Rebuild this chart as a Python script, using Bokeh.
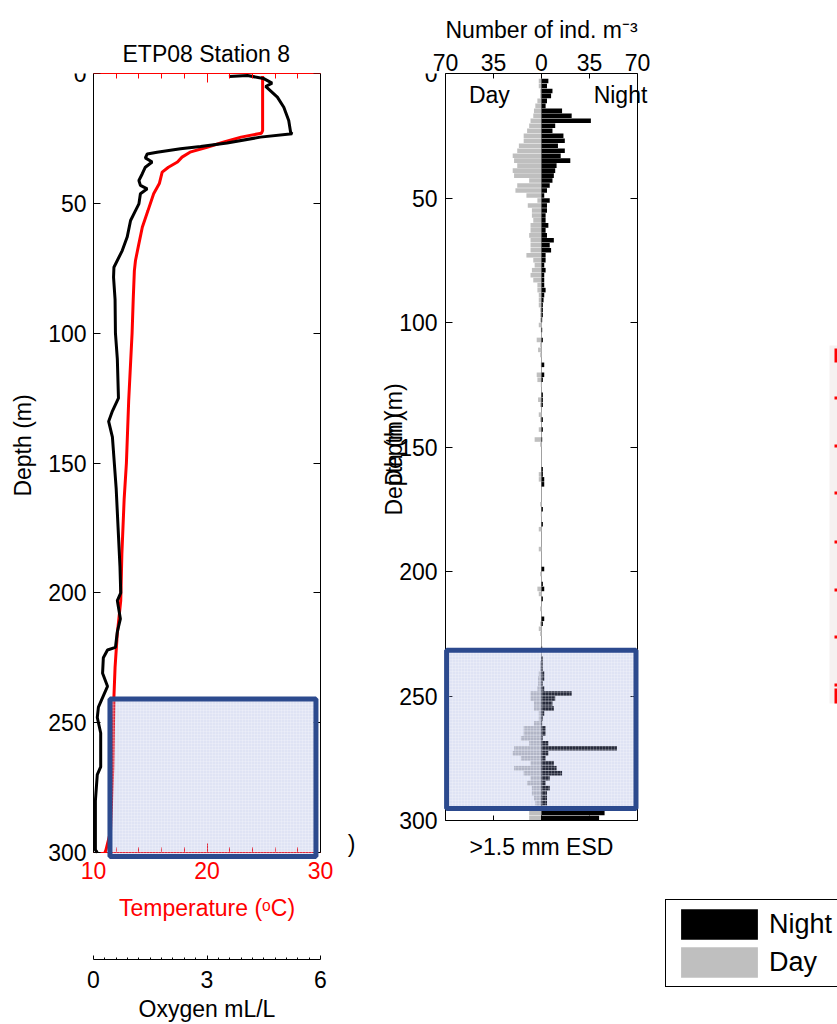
from bokeh.plotting import figure
from bokeh.models import (Range1d, LinearAxis, FixedTicker, BoxAnnotation, Label,
                          Legend, LegendItem)
from bokeh.layouts import row
from bokeh.embed import file_html
from bokeh.resources import INLINE

FONT = "Liberation Sans"
FS = "23px"

# ---------------- data ----------------
depth_ticks = [0, 50, 100, 150, 200, 250, 300]

# Temperature profile (deg C) vs depth (m)
temp_depth = [1, 3, 10, 22, 23, 24.5, 26.4, 28.4, 30.3, 32.2, 34.1, 36.1, 38, 42.4, 46.3,
              52.8, 59.2, 65.5, 72, 76, 87, 100, 126, 150, 164, 185, 203, 215.6, 228.7,
              240, 267, 292, 299, 300]
temp_vals = [24.9, 24.9, 24.9, 24.9, 24.8, 23.0, 21.5, 20.0, 18.5, 17.8, 17.4, 16.6, 16.05,
             15.8, 15.3, 14.8, 14.3, 14.0, 13.7, 13.6, 13.5, 13.4, 13.1, 12.9, 12.7, 12.5,
             12.4, 12.1, 11.9, 11.8, 11.7, 11.5, 11.1, 11.0]

# Oxygen profile (mL/L) vs depth (m)
oxy_depth = [1.2, 0.8, 1.9, 3.7, 5.0, 9.1, 13, 18.1, 22.6, 23.2, 24.5, 26.8, 28.1, 29, 30.3,
             31, 32.5, 34.1, 36.1, 38.6, 41.2, 43.1, 44.4, 46.3, 50.2, 52.8, 56.6, 63, 68.2,
             74.6, 78.5, 87, 100, 110, 125, 130, 134, 140, 150, 160, 175, 190, 200, 203, 210,
             215, 221, 222, 225, 231, 236, 244, 248, 254, 267, 270, 280, 299, 300]
oxy_vals = [3.58, 4.07, 4.49, 4.72, 4.55, 4.86, 5.03, 5.16, 5.21, 5.25, 4.41, 3.53, 2.83, 2.3,
            1.68, 1.42, 1.37, 1.55, 1.37, 1.29, 1.2, 1.24, 1.42, 1.24, 1.2, 1.11, 0.98, 0.89,
            0.76, 0.54, 0.53, 0.57, 0.58, 0.63, 0.66, 0.5, 0.4, 0.5, 0.55, 0.6, 0.65, 0.7,
            0.72, 0.63, 0.71, 0.63, 0.58, 0.37, 0.26, 0.24, 0.37, 0.13, 0.1, 0.19, 0.19, 0.1,
            0.05, 0.05, 0.1]

# Zooplankton abundance (ind. m^-3), 2-m depth bins from 0 to 300 m
bin_size = 2
night_counts = [
    0, 5, 4, 8, 7, 4, 3, 15, 22, 36,
    10, 8, 16, 17, 12, 17, 14, 21, 11, 10,
    9, 8, 6, 4, 2, 6, 4, 4, 3, 3,
    5, 3, 4, 9, 6, 7, 3, 3, 2, 3,
    2, 2, 2, 3, 2, 1.5, 1, 1, 1, 0.5,
    0, 0.5, 0, 1, 0, 0, 0, 0, 2, 0,
    2, 1, 0, 0, 1, 1, 1, 0, 0, 1,
    0, 1, 0, 0.5, 0, 0, 0, 0, 0, 1,
    1, 2, 2, 0, 0, 0, 0, 1, 0, 0,
    1, 0, 0, 0, 0, 0, 0, 0, 0, 2,
    0, 0, 1, 2, 0, 1, 0, 0, 0, 2,
    1, 0, 0, 0, 0, 0.5, 0, 1, 1, 1,
    2, 2, 1, 2, 22, 10, 8, 9, 2, 1,
    0.5, 3, 3, 1, 5, 55, 5, 3, 9, 11,
    15, 6, 3, 6, 4, 4, 4, 1, 46, 42,
]
day_counts = [
    0, 2, 2, 1, 1, 3, 4.5, 5.5, 6, 8,
    9, 10.5, 13, 13, 16.5, 17.7, 21, 20, 17.7, 21,
    20, 9, 17.7, 19, 11, 3, 10, 7, 7, 6,
    8, 8, 9, 8, 8, 8, 11, 6, 5, 7,
    8, 6, 3, 3, 2, 2, 2, 1, 1, 1,
    2, 0.5, 0, 3.5, 1, 2.5, 1, 0, 0.5, 0,
    3.5, 3, 0.5, 0, 0, 2.5, 1, 0, 2, 1,
    0, 2, 0, 5, 1, 0, 0, 0, 0, 0,
    2, 2, 0, 0, 0, 0, 1, 0, 0.5, 0,
    0, 2, 0, 0, 0, 2, 0, 0, 0, 0,
    1, 0, 0, 3, 2, 0, 0, 1, 0, 0,
    1, 2, 1, 0, 0, 0.5, 0, 0, 1, 1,
    2, 2.5, 2.5, 3, 8, 8, 5.5, 5.5, 2, 2,
    5.5, 13, 13, 15, 9, 20, 21, 15, 8, 20,
    13, 8, 10.5, 7, 7, 5.5, 4.5, 4, 9, 9,
]
bin_centers = [bin_size * i + bin_size / 2 for i in range(len(night_counts))]
day_left = [-v for v in day_counts]

abund_ticks = [-70, -35, 0, 35, 70]
abund_labels = {-70: "70", -35: "35", 0: "0", 35: "35", 70: "70"}

# highlighted boxes (data coordinates)
box1 = dict(left=11.45, right=29.6, top=240.9, bottom=301.5)
box2 = dict(left=-69.2, right=68.9, top=231.6, bottom=295.2)

NIGHT_COLOR = "black"
DAY_COLOR = "#bfbfbf"
BOX_FILL = "#8d9ad6"
BOX_LINE = "#2c4a8e"

# ---------------- layout constants (pixels; the page has no margin) ----------------
H = 1024
TOP = 73
FRAME_H = H - TOP
W1, W2, W3 = 345, 305, 187
P1_LEFT, P1_RIGHT = 93, 320           # plot box of panel 1 inside its canvas
P2_LEFT, P2_RIGHT = 100, 292          # plot box of panel 2 inside its canvas
P1_PX_PER_M = 779 / 300
P2_PX_PER_M = 747 / 300
P1_PX_PER_C = (P1_RIGHT - P1_LEFT) / 20
P1_PX_PER_OXY = (P1_RIGHT - P1_LEFT) / 6
P2_PX_PER_N = (P2_RIGHT - P2_LEFT) / 140

T_RANGE = (10 - P1_LEFT / P1_PX_PER_C, 30 + (W1 - P1_RIGHT) / P1_PX_PER_C)
O_RANGE = (0 - P1_LEFT / P1_PX_PER_OXY, 6 + (W1 - P1_RIGHT) / P1_PX_PER_OXY)
N_RANGE = (-70 - P2_LEFT / P2_PX_PER_N, 70 + (W2 - P2_RIGHT) / P2_PX_PER_N)
P1_YMAX = FRAME_H / P1_PX_PER_M
P2_YMAX = FRAME_H / P2_PX_PER_M
OXY_AXIS_DEPTH = 886 / P1_PX_PER_M
P1_LABEL_DEPTH = 372 / P1_PX_PER_M
P2_LABEL_DEPTHS = [157, 145]
P2_PAREN_DEPTH = 770 / P2_PX_PER_M

# clipped fragment of a neighbouring panel at the right page edge (page pixels)
strip_top, strip_bottom = 345, 703
frag_top = [348, 396, 444, 491, 540, 588, 635, 683, 688]
frag_bottom = [362, 399, 447, 494, 543, 591, 638, 686, 703]


def style_axis(ax, color="black", labels=True, fs=FS):
    ax.axis_line_color = color
    ax.axis_line_width = 1
    ax.major_tick_line_color = color
    ax.minor_tick_line_color = color
    ax.major_label_text_color = color
    ax.axis_label_text_color = color
    ax.major_label_text_font = FONT
    ax.axis_label_text_font = FONT
    ax.major_label_text_font_size = fs if labels else "0px"
    if not labels:
        ax.major_label_standoff = 0
    ax.axis_label_text_font_size = fs
    ax.axis_label_text_font_style = "normal"
    ax.major_tick_out = 0
    ax.minor_tick_out = 0


def text_axis(ticks, texts, standoff, loc, vertical=False):
    a = LinearAxis(ticker=FixedTicker(ticks=ticks), fixed_location=loc,
                   major_label_overrides=dict(zip(ticks, texts)))
    style_axis(a)
    a.axis_line_color = None
    a.major_tick_line_color = None
    a.minor_tick_line_color = None
    a.major_label_standoff = standoff
    if vertical:
        a.major_label_orientation = "vertical"
    return a


def style_title(t, offset, standoff):
    t.align = "left"
    t.offset = offset
    t.vertical_align = "top"
    t.text_font = FONT
    t.text_font_size = FS
    t.text_font_style = "normal"
    t.text_color = "black"
    t.standoff = standoff


# ---------------- left panel ----------------
p1 = figure(width=W1, height=H, x_range=Range1d(*T_RANGE), y_range=Range1d(P1_YMAX, 0),
            x_axis_location=None, y_axis_location=None, toolbar_location=None,
            output_backend="svg", min_border_left=0, min_border_right=0,
            min_border_top=TOP, min_border_bottom=0, outline_line_color=None,
            title="ETP08 Station 8")
p1.extra_x_ranges = {"oxy": Range1d(*O_RANGE)}
p1.grid.visible = False
style_title(p1.title, 122, 10)

yl = LinearAxis(ticker=FixedTicker(ticks=depth_ticks), bounds=(0, 300), fixed_location=10)
style_axis(yl)
yl.major_tick_in = 7
yl.minor_tick_line_color = None
yl.major_label_standoff = 7
p1.add_layout(yl, "left")
p1.add_layout(text_axis([P1_LABEL_DEPTH], ["Depth (m)"], 58, 10, vertical=True), "left")

yr = LinearAxis(ticker=FixedTicker(ticks=depth_ticks), bounds=(0, 300), fixed_location=30)
style_axis(yr, labels=False)
yr.major_tick_in = 7
yr.minor_tick_line_color = None
p1.add_layout(yr, "right")

temp_ticker = FixedTicker(ticks=[10, 20, 30], minor_ticks=[12, 14, 16, 18, 22, 24, 26, 28])
xb = LinearAxis(ticker=temp_ticker, axis_label="Temperature (ᵒC)", fixed_location=300,
                bounds=(10, 30))
style_axis(xb, color="red")
xb.major_tick_in = 9
xb.minor_tick_in = 5
xb.major_label_standoff = 9
xb.axis_label_standoff = 13
p1.add_layout(xb, "below")

xt = LinearAxis(ticker=temp_ticker, bounds=(10, 30))
style_axis(xt, color="red", labels=False)
xt.major_tick_in = 9
xt.minor_tick_in = 5
p1.add_layout(xt, "above")

oxy_minor = [round(0.3 * k, 1) for k in range(1, 20) if k != 10]
xo = LinearAxis(x_range_name="oxy", ticker=FixedTicker(ticks=[0, 3, 6], minor_ticks=oxy_minor),
                axis_label="Oxygen mL/L", fixed_location=OXY_AXIS_DEPTH, bounds=(0, 6))
style_axis(xo)
xo.major_tick_in = 4
xo.minor_tick_in = 2
xo.major_label_standoff = 11
xo.axis_label_standoff = 5
p1.add_layout(xo, "below")

p1.line(temp_vals, temp_depth, line_color="red", line_width=3)
p1.line(oxy_vals, oxy_depth, line_color="black", line_width=3, x_range_name="oxy")

p1.add_layout(BoxAnnotation(**box1, fill_color=BOX_FILL, fill_alpha=0.28,
                            line_color=BOX_LINE, line_alpha=1, line_width=5,
                            hatch_pattern="+", hatch_color="white", hatch_alpha=0.35,
                            hatch_scale=3, hatch_weight=0.6))

# ---------------- right panel ----------------
p2 = figure(width=W2, height=H, x_range=Range1d(*N_RANGE), y_range=Range1d(P2_YMAX, 0),
            x_axis_location=None, y_axis_location=None, toolbar_location=None,
            output_backend="svg", min_border_left=0, min_border_right=0,
            min_border_top=TOP, min_border_bottom=0, outline_line_color=None,
            title="Number of ind. m⁻³")
p2.grid.visible = False
style_title(p2.title, P2_LEFT, 12)

abund_ticker = FixedTicker(ticks=abund_ticks)
at = LinearAxis(ticker=abund_ticker, major_label_overrides=abund_labels, bounds=(-70, 70))
style_axis(at)
at.major_tick_in = 5
at.major_label_standoff = 3
p2.add_layout(at, "above")

ab = LinearAxis(ticker=abund_ticker, axis_label=">1.5 mm ESD", bounds=(-70, 70),
                fixed_location=300)
style_axis(ab, labels=False)
ab.major_tick_in = 5
ab.axis_label_standoff = 13
p2.add_layout(ab, "below")

yl2 = LinearAxis(ticker=FixedTicker(ticks=depth_ticks), bounds=(0, 300), fixed_location=-70)
style_axis(yl2)
yl2.major_tick_in = 7
yl2.minor_tick_line_color = None
yl2.major_label_standoff = 8
p2.add_layout(yl2, "left")
p2.add_layout(text_axis(P2_LABEL_DEPTHS, ["Depth (m)", "Depth (m)"], 38, -70, vertical=True),
              "left")
p2.add_layout(text_axis([P2_PAREN_DEPTH], [")"], 90, -70), "left")

yr2 = LinearAxis(ticker=FixedTicker(ticks=depth_ticks), bounds=(0, 300), fixed_location=70)
style_axis(yr2, labels=False)
yr2.major_tick_in = 7
yr2.minor_tick_line_color = None
p2.add_layout(yr2, "right")

p2.segment(x0=[0], y0=[depth_ticks[0]], x1=[0], y1=[depth_ticks[-1]],
           line_color="#a0a0a0", line_width=1)
p2.hbar(y=bin_centers, height=bin_size * 0.92, left=day_left, right=0,
        fill_color=DAY_COLOR, line_color=None)
p2.hbar(y=bin_centers, height=bin_size * 0.92, left=0, right=night_counts,
        fill_color=NIGHT_COLOR, line_color=None)

p2.add_layout(Label(x=-38, y=8.8, text="Day", text_align="center", text_color="black",
                    text_baseline="alphabetic", text_font=FONT, text_font_size=FS))
p2.add_layout(Label(x=57.6, y=8.8, text="Night", text_align="center", text_color="black",
                    text_baseline="alphabetic", text_font=FONT, text_font_size=FS))

p2.add_layout(BoxAnnotation(**box2, fill_color=BOX_FILL, fill_alpha=0.28,
                            line_color=BOX_LINE, line_alpha=1, line_width=5,
                            hatch_pattern="+", hatch_color="white", hatch_alpha=0.35,
                            hatch_scale=3, hatch_weight=0.6))

# ---------------- legend column ----------------
p3 = figure(width=W3, height=H, x_range=Range1d(0, W3), y_range=Range1d(0, FRAME_H),
            x_axis_location=None, y_axis_location=None, toolbar_location=None,
            output_backend="svg", min_border_left=0, min_border_right=0,
            min_border_top=TOP, min_border_bottom=0, outline_line_color=None)
p3.grid.visible = False

p3.quad(left=W3 - 8, right=W3, top=H - strip_top, bottom=H - strip_bottom,
        fill_color="#f6f1f1", line_color=None)
p3.quad(left=W3 - 3, right=W3, top=[H - v for v in frag_top],
        bottom=[H - v for v in frag_bottom], fill_color="red", line_color=None)

# legend proxies placed outside the visible range
rn = p3.hbar(y=[-100], height=1, left=[0], right=[1], fill_color=NIGHT_COLOR, line_color=None)
rd = p3.hbar(y=[-100], height=1, left=[0], right=[1], fill_color=DAY_COLOR, line_color=None)
legend = Legend(items=[LegendItem(label="Night", renderers=[rn]),
                       LegendItem(label="Day", renderers=[rd])],
                location=(15, 37), glyph_width=96, glyph_height=38, label_height=38,
                label_width=100, label_text_font=FONT, label_text_font_size="27px",
                label_text_color="black",
                padding=5, spacing=0, label_standoff=2, margin=0,
                border_line_color="black", border_line_width=1, border_line_alpha=1,
                background_fill_color="white", background_fill_alpha=1)
p3.add_layout(legend)

layout = row(p1, p2, p3)
open("out.html", "w").write(file_html(layout, INLINE))
